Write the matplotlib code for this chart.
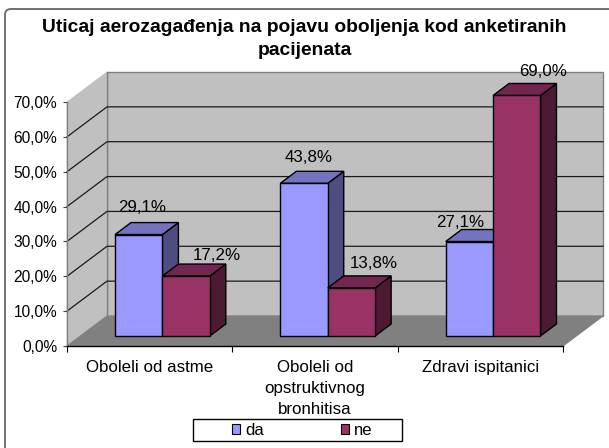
import matplotlib
matplotlib.use("Agg")
import matplotlib.pyplot as plt
from matplotlib.patches import FancyBboxPatch, Patch, Rectangle
from matplotlib.transforms import IdentityTransform

plt.rcParams["font.family"] = ["Liberation Sans", "DejaVu Sans"]

title = "Uticaj aerozagađenja na pojavu oboljenja kod anketiranih\npacijenata"
categories = ["Oboleli od astme", "Oboleli od\nopstruktivnog\nbronhitisa", "Zdravi ispitanici"]
series_names = ["da", "ne"]
da_values = [29.1, 43.8, 27.1]
ne_values = [17.2, 13.8, 69.0]
y_ticks = [0, 10, 20, 30, 40, 50, 60, 70]

# pixel size of the front plane and of the fake 3d depth
W, H = 609, 448
FRONT_L, FRONT_R, FRONT_T, FRONT_B = 67, 563, 102, 346
PX_X = (FRONT_R - FRONT_L) / 3
PX_Y = (FRONT_B - FRONT_T) / 70
WALL_DX, WALL_DY = 40 / PX_X, 30 / PX_Y
BAR_DX, BAR_DY = 16 / PX_X, 12 / PX_Y
BASE_Y = 10 / PX_Y
BAR_W = 47.4 / PX_X
BAR_START = 48 / PX_X

fig = plt.figure(figsize=(W / 100, H / 100), dpi=100)
ax = fig.add_axes([FRONT_L / W, 1 - FRONT_B / H, (FRONT_R - FRONT_L) / W, (FRONT_B - FRONT_T) / H])
ax.set_xlim(0, 3)
ax.set_ylim(0, 70)
ax.patch.set_visible(False)

# walls and floor
ax.fill([WALL_DX, 3 + WALL_DX, 3 + WALL_DX, WALL_DX],
        [WALL_DY, WALL_DY, 70 + WALL_DY, 70 + WALL_DY],
        facecolor="#c0c0c0", edgecolor="#808080", lw=1, clip_on=False, zorder=1)
ax.fill([0, WALL_DX, WALL_DX, 0], [0, WALL_DY, 70 + WALL_DY, 70],
        facecolor="#c0c0c0", edgecolor="#c0c0c0", lw=0.5, clip_on=False, zorder=1)
ax.fill([0, 3, 3 + WALL_DX, WALL_DX], [0, 0, WALL_DY, WALL_DY],
        facecolor="#808080", edgecolor="#808080", lw=0.8, clip_on=False, zorder=1.5)
ax.plot([WALL_DX, WALL_DX], [WALL_DY, 70 + WALL_DY], color="#808080", lw=1, clip_on=False, zorder=1.6)

for t in y_ticks[1:-1]:
    ax.plot([0, WALL_DX, 3 + WALL_DX], [t, t + WALL_DY, t + WALL_DY],
            color="#1a1a1a", lw=0.9, clip_on=False, zorder=2)


def draw_bar(x, value, front, top, side):
    y0 = BASE_Y
    y1 = BASE_Y + value
    x1 = x + BAR_W
    ax.fill([x1, x1 + BAR_DX, x1 + BAR_DX, x1], [y0, y0 + BAR_DY, y1 + BAR_DY, y1],
            facecolor=side, edgecolor="black", lw=1, clip_on=False, zorder=3)
    ax.fill([x, x1, x1 + BAR_DX, x + BAR_DX], [y1, y1, y1 + BAR_DY, y1 + BAR_DY],
            facecolor=top, edgecolor="black", lw=1, clip_on=False, zorder=3)
    ax.bar(x, value, width=BAR_W, bottom=BASE_Y, align="edge", facecolor=front,
           edgecolor="black", lw=1, clip_on=False, zorder=3)


blue = ("#9999ff", "#7373bf", "#4d4d80")
maroon = ("#993366", "#732650", "#4d1a33")
for i in range(3):
    left = i + BAR_START
    draw_bar(left, da_values[i], *blue)
    draw_bar(left + BAR_W, ne_values[i], *maroon)

# value labels, hand shifted like in the original
da_shift = [(3, 27), (5, 26), (-9, 19)]
ne_shift = [(31, 21), (22, 24), (26, 24)]
for i in range(3):
    left = i + BAR_START
    for x, value, shift in [(left + BAR_W / 2, da_values[i], da_shift[i]),
                            (left + BAR_W * 1.5, ne_values[i], ne_shift[i])]:
        ax.annotate(f"{value:.1f}%".replace(".", ","), (x, BASE_Y + value), xytext=shift,
                    textcoords="offset pixels", ha="center", va="center",
                    fontsize=12.2, color="black", zorder=5, annotation_clip=False)

# axes
for name in ["top", "right"]:
    ax.spines[name].set_visible(False)
ax.spines["left"].set_color("#808080")
ax.spines["left"].set_linewidth(1)
ax.spines["bottom"].set_color("black")
ax.spines["bottom"].set_linewidth(1)
ax.spines["left"].set_zorder(2.5)
ax.spines["bottom"].set_zorder(2.5)
ax.set_yticks(y_ticks)
ax.set_yticklabels([f"{t:.1f}%".replace(".", ",") for t in y_ticks], fontsize=11.2)
ax.tick_params(axis="y", length=3, width=0.8, color="#404040", pad=4)
ax.set_xticks([0, 1, 2, 3])
ax.set_xticklabels([])
ax.tick_params(axis="x", which="major", length=4, width=0.8, color="black")
ax.set_xticks([0.5, 1.5, 2.5], minor=True)
ax.set_xticklabels(categories, minor=True, fontsize=12.2, linespacing=1.5)
ax.tick_params(axis="x", which="minor", length=0, pad=10)

fig.text(304.5 / W, 1 - 39 / H, title, ha="center", va="center", fontsize=13.9,
         fontweight="bold", linespacing=1.42)

# chart border runs off the picture on the right and at the bottom
fig.add_artist(FancyBboxPatch((5, -30), W + 30, H - 9 + 30, boxstyle="round,pad=0,rounding_size=6",
                              transform=IdentityTransform(), facecolor="none",
                              edgecolor="#707070", lw=1.4))

# legend box
fig.add_artist(Rectangle((193 / W, 1 - 441 / H), 209 / W, 22 / H, transform=fig.transFigure,
                         facecolor="white", edgecolor="black", lw=1, zorder=4))
handles = [Patch(facecolor=blue[0], edgecolor="black", lw=0.8, label=series_names[0]),
           Patch(facecolor=maroon[0], edgecolor="black", lw=0.8, label=series_names[1])]
leg = fig.legend(handles=handles, ncol=2, loc="center left", bbox_to_anchor=(232 / W, 1 - 430 / H),
                 frameon=False, fontsize=12, borderpad=0, borderaxespad=0,
                 handlelength=0.5, handleheight=0.55, handletextpad=0.3, columnspacing=4.6)
leg.set_zorder(5)

fig.savefig("out.png", dpi=100)
